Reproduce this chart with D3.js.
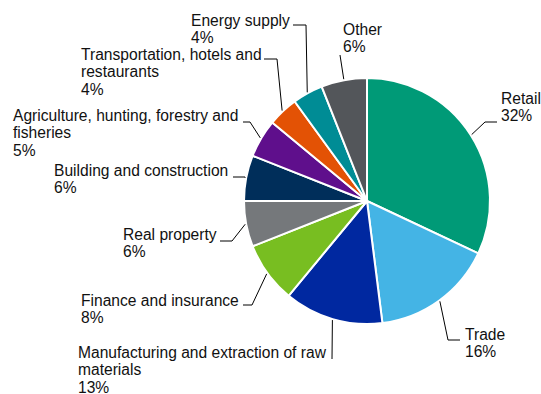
<!DOCTYPE html>
<html>
<head>
<meta charset="utf-8">
<script src="https://cdn.jsdelivr.net/npm/d3@7"></script>
<style>
  body { margin: 0; background: #fff; }
  svg { display: block; font-family: "Liberation Sans", Arial, sans-serif; }
</style>
</head>
<body>
<div id="chart"></div>
<script>
// sectors, clockwise from 12 o'clock
const sectors = ["Retail", "Trade", "Manufacturing and extraction of raw materials",
  "Finance and insurance", "Real property", "Building and construction",
  "Agriculture, hunting, forestry and fisheries", "Transportation, hotels and restaurants",
  "Energy supply", "Other"];
const shares = [32, 16, 13, 8, 6, 6, 5, 4, 4, 6];
const colours = ["#009a77", "#44b4e5", "#0028a0", "#78be21", "#75787b",
  "#002e5a", "#5f0f8c", "#e35205", "#008c95", "#53565a"];

// label text split into lines as in the original
const labelLines = [
  ["Retail"], ["Trade"], ["Manufacturing and extraction of raw", "materials"],
  ["Finance and insurance"], ["Real property"], ["Building and construction"],
  ["Agriculture, hunting, forestry and", "fisheries"], ["Transportation, hotels and", "restaurants"],
  ["Energy supply"], ["Other"]
];

// label placement: text origin (first baseline), leader elbow and leader end
const labelPos = [
  {x: 501, y: 104, elbow: [485, 122], end: [497, 122]},
  {x: 465, y: 340, elbow: [448, 340], end: [460, 340]},
  {x: 78,  y: 358, elbow: [332, 359], end: null},
  {x: 81,  y: 306, elbow: [252, 305], end: [243, 305]},
  {x: 123, y: 240, elbow: [232, 241], end: [220, 241]},
  {x: 54,  y: 176, elbow: [245, 177], end: [233, 177]},
  {x: 13,  y: 121, elbow: [250, 122], end: [243, 122]},
  {x: 81,  y: 60,  elbow: [277, 59],  end: [264, 59]},
  {x: 191, y: 26,  elbow: [306, 25],  end: [293, 25]},
  {x: 343, y: 35,  elbow: [340, 55],  end: null}
];

const width = 541, height = 394;
const cx = 367, cy = 201, radius = 123;
const lineH = 17.4;

const svg = d3.select("#chart").append("svg")
  .attr("width", width)
  .attr("height", height);

const pie = d3.pie().sort(null).value(d => d)(shares);
const arc = d3.arc().innerRadius(0).outerRadius(radius);
const edge = d3.arc().innerRadius(radius + 1).outerRadius(radius + 1);

const g = svg.append("g").attr("transform", `translate(${cx},${cy})`);

g.selectAll("path")
  .data(pie)
  .join("path")
  .attr("d", arc)
  .attr("fill", (d, i) => colours[i])
  .attr("stroke", "#fff")
  .attr("stroke-width", 2)
  .attr("stroke-linejoin", "round");

// leader lines
svg.append("g")
  .selectAll("polyline")
  .data(pie)
  .join("polyline")
  .attr("fill", "none")
  .attr("stroke", "#000")
  .attr("stroke-width", 1)
  .attr("points", (d, i) => {
    const [ex, ey] = edge.centroid(d);
    const p = labelPos[i];
    const pts = [[cx + ex, cy + ey], p.elbow];
    if (p.end) pts.push(p.end);
    return pts.map(q => q.join(",")).join(" ");
  });

// labels
const labels = svg.append("g")
  .attr("font-size", 15.6)
  .attr("fill", "#111")
  .selectAll("text")
  .data(pie)
  .join("text")
  .attr("x", (d, i) => labelPos[i].x)
  .attr("y", (d, i) => labelPos[i].y);

labels.each(function(d, i) {
  const t = d3.select(this);
  const lines = labelLines[i].concat([shares[i] + "%"]);
  lines.forEach((s, k) => {
    t.append("tspan")
      .attr("x", labelPos[i].x)
      .attr("y", labelPos[i].y + k * lineH)
      .text(s);
  });
});
</script>
</body>
</html>
